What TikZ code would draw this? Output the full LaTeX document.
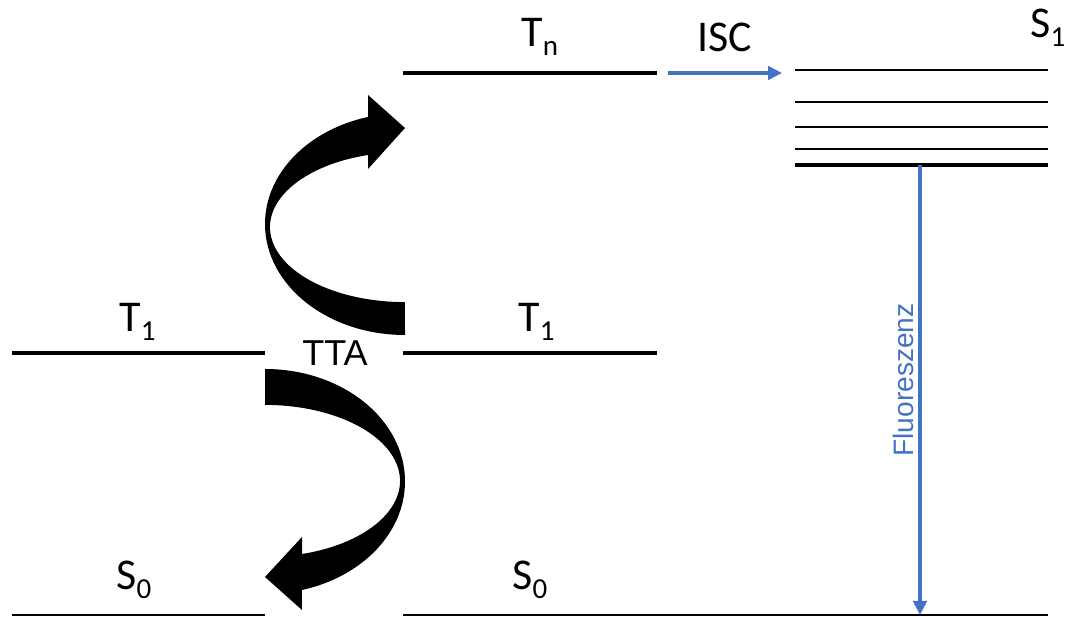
\documentclass[tikz,border=0pt]{standalone}
\usepackage{fontspec}
\setmainfont{Carlito}
\newfontfamily\arialfont{Liberation Sans}
\usetikzlibrary{arrows.meta}
\definecolor{pptblue}{HTML}{4472C4}
\newcommand\lvsub[1]{\raisebox{-4.6pt}{\fontsize{16.5}{16.5}\selectfont #1}}
\begin{document}
\begin{tikzpicture}[x=0.02cm,y=0.02cm,
  level/.style={line width=2.1pt},
  groundlevel/.style={line width=0.9pt},
  viblevel/.style={line width=0.7pt},
  s1base/.style={line width=2.4pt},
  lbl/.style={inner sep=0pt, anchor=base west, font=\fontsize{25}{30}\selectfont},
  bluearrow/.style={draw=pptblue, line width=1.8pt, -{Triangle[length=0.28cm,width=0.27cm]}},
  bigarrow/.style={fill=black}]
\useasboundingbox (0,0) rectangle (1066,-617);

% level end points
\coordinate (T1La) at (12,-353);  \coordinate (T1Lb) at (265,-353);
\coordinate (T1Ma) at (403,-353); \coordinate (T1Mb) at (657,-353);
\coordinate (TnA) at (403,-73);   \coordinate (TnB) at (657,-73);
\coordinate (S0La) at (12,-615);  \coordinate (S0Lb) at (265,-615);
\coordinate (S0Ma) at (403,-615); \coordinate (S0Mb) at (1048,-615);
\coordinate (S1v4a) at (795,-70);  \coordinate (S1v4b) at (1048,-70);
\coordinate (S1v3a) at (795,-102); \coordinate (S1v3b) at (1048,-102);
\coordinate (S1v2a) at (795,-127); \coordinate (S1v2b) at (1048,-127);
\coordinate (S1v1a) at (795,-149); \coordinate (S1v1b) at (1048,-149);
\coordinate (S1a) at (795,-165);   \coordinate (S1b) at (1048,-165);

% levels
\draw[level] (T1La) -- (T1Lb);
\draw[level] (T1Ma) -- (T1Mb);
\draw[level] (TnA) -- (TnB);
\draw[groundlevel] (S0La) -- (S0Lb);
\draw[groundlevel] (S0Ma) -- (S0Mb);
\draw[viblevel] (S1v4a) -- (S1v4b);
\draw[viblevel] (S1v3a) -- (S1v3b);
\draw[viblevel] (S1v2a) -- (S1v2b);
\draw[viblevel] (S1v1a) -- (S1v1b);
\draw[s1base] (S1a) -- (S1b);

% labels
\node[lbl] (lT1L) at (119,-332) {T\lvsub{1}};
\node[lbl] (lT1M) at (518,-332) {T\lvsub{1}};
\node[lbl] (lTn) at (521,-47) {T\lvsub{n}};
\node[lbl] (lS0L) at (116,-590) {S\lvsub{0}};
\node[lbl] (lS0M) at (512,-590) {S\lvsub{0}};
\node[lbl] (lS1) at (1030,-38) {S\lvsub{1}};
\node[lbl] (lISC) at (697,-52) {ISC};
\node[inner sep=0pt, anchor=base west, font=\arialfont\fontsize{20.5}{24}\selectfont] (lTTA) at (302,-366) {TTA};

% blue arrows
\coordinate (iscS) at (668,-73);
\coordinate (iscE) at (782,-73);
\draw[bluearrow] (iscS) -- (iscE);
\coordinate (flS) at (920,-165);
\coordinate (flE) at (920,-615);
\draw[bluearrow] (flS) -- (flE);
\node[rotate=90, inner sep=0pt, text=pptblue, font=\arialfont\fontsize{16}{19}\selectfont] (lFl) at (903,-380) {Fluoreszenz};

% big curved arrows (TTA)
\fill[bigarrow] (405,-335)
  arc[start angle=270, end angle=105.3, x radius=140, y radius=111]
  -- (368,-95) -- (405,-128) -- (368,-169) -- (368,-155)
  arc[start angle=105.9, end angle=270, x radius=135, y radius=75]
  -- cycle;
\fill[bigarrow] (265,-369)
  arc[start angle=90, end angle=-74.7, x radius=140, y radius=112.5]
  -- (302,-610) -- (265,-577) -- (302,-537) -- (302,-554)
  arc[start angle=-74.1, end angle=90, x radius=135, y radius=76]
  -- cycle;
\end{tikzpicture}
\end{document}
